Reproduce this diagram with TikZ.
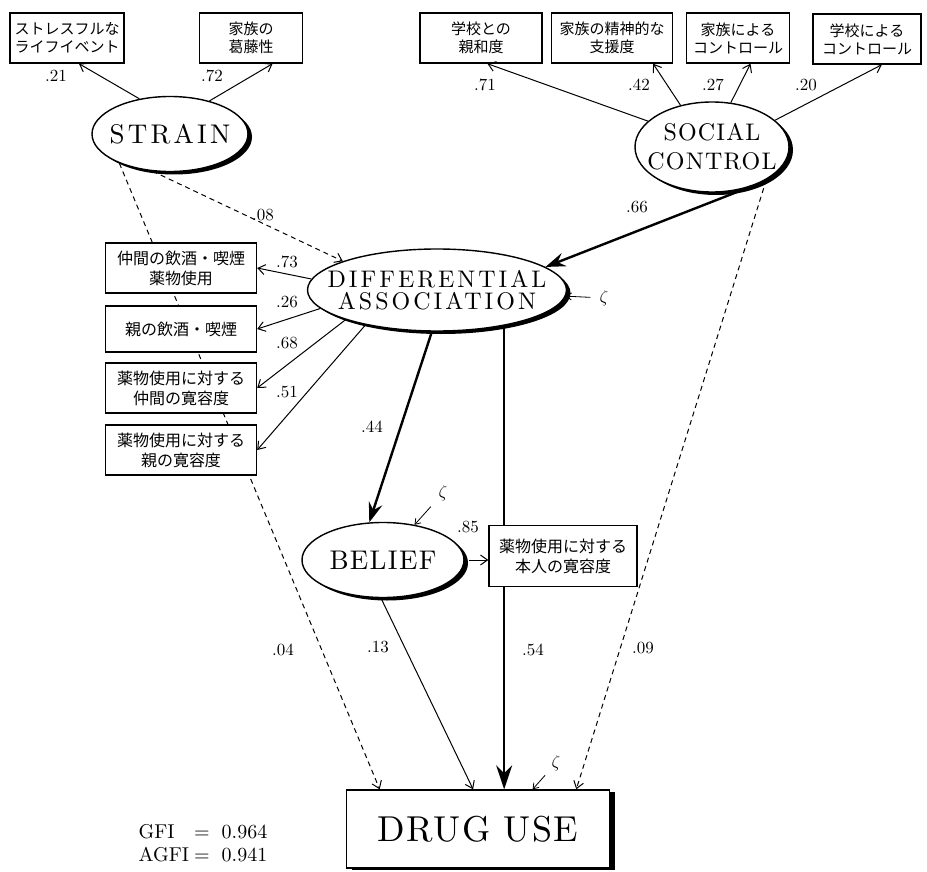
\documentclass[tikz,border=0pt]{standalone}
\usepackage{fontspec}
\setmainfont{lmroman10-regular.otf}
\newfontfamily\jpfont{Noto Sans CJK JP}
\usetikzlibrary{shapes.geometric,shadows,arrows.meta}

\begin{document}
\begin{tikzpicture}[x=1pt, y=-1pt,
  obs/.style={rectangle, draw, line width=1.4pt, fill=white, inner sep=0pt, align=center, font=\jpfont\fontsize{15}{18}\selectfont},
  obsl/.style={obs, minimum width=151pt, font=\jpfont\fontsize{16}{20}\selectfont},
  latent/.style={ellipse, draw, line width=1.4pt, fill=white, inner sep=0pt, drop shadow={shadow xshift=4pt, shadow yshift=-3pt, fill=black, opacity=1}},
  lat/.style={align=center, font=\fontsize{24}{22}\selectfont\addfontfeatures{LetterSpace=12.5}},
  coef/.style={inner sep=1pt, font=\fontsize{17}{17}\selectfont},
  zeta/.style={inner sep=1pt, font=\fontsize{17}{17}\selectfont},
  arr/.style={-{Straight Barb[length=7pt,width=10pt]}, line width=1pt},
  darr/.style={arr, dash pattern=on 5pt off 4pt},
  bigarr/.style={-{Stealth[length=20pt,width=14pt,inset=7pt]}, line width=2.4pt},
  zarr/.style={-{Straight Barb[length=5pt,width=7pt]}, line width=0.8pt}]
  \useasboundingbox (0,0) rectangle (927,872);

  \node[latent, minimum width=156pt, minimum height=75pt, label={[lat, font=\fontsize{27}{27}\selectfont\addfontfeatures{LetterSpace=12}]center:STRAIN}] (strain) at (170,134) {};
  \node[latent, minimum width=154pt, minimum height=90pt, label={[lat, font=\fontsize{24}{29}\selectfont\addfontfeatures{LetterSpace=5}]center:SOCIAL\\CONTROL}] (sc) at (712,147) {};
  \node[latent, minimum width=259pt, minimum height=82pt, label={[lat]center:DIFFERENTIAL\\ASSOCIATION}] (da) at (437,290) {};
  \node[obs, minimum width=263pt, minimum height=78pt, font=\fontsize{36}{36}\selectfont\addfontfeatures{LetterSpace=4}, drop shadow={shadow xshift=5pt, shadow yshift=-2pt, fill=black, opacity=1}] (drug) at (478,829) {DRUG USE};

  \draw[darr] (strain.210) -- (drug.158);
  \draw[-{Stealth[length=24pt,width=16pt,inset=8pt]}, line width=1.6pt] (da.-28) -- (da.-28 |- drug.north);

  \node[obs, minimum width=114pt, minimum height=50pt] (stress) at (67,38) {ストレスフルな\\ライフイベント};
  \node[obs, minimum width=103pt, minimum height=50pt] (conflict) at (251,38) {家族の\\葛藤性};
  \node[obs, minimum width=122pt, minimum height=50pt] (bond) at (481,38) {学校との\\親和度};
  \node[obs, minimum width=121pt, minimum height=50pt] (support) at (612,38) {家族の精神的な\\支援度};
  \node[obs, minimum width=103pt, minimum height=50pt] (famctl) at (738,38) {家族による\\コントロール};
  \node[obs, minimum width=108pt, minimum height=50pt] (schctl) at (867,39) {学校による\\コントロール};
  \node[obsl, minimum height=50pt] (peeruse) at (181,268) {仲間の飲酒・喫煙\\薬物使用};
  \node[obsl, minimum height=46pt] (parentuse) at (181,329) {親の飲酒・喫煙};
  \node[obsl, minimum height=50pt] (peertol) at (181,388) {薬物使用に対する\\仲間の寛容度};
  \node[obsl, minimum height=50pt] (parenttol) at (181,450) {薬物使用に対する\\親の寛容度};
  \node[obs, minimum width=148pt, minimum height=61pt, font=\jpfont\fontsize{16}{20}\selectfont] (selftol) at (563,556) {薬物使用に対する\\本人の寛容度};
  \node[latent, minimum width=162pt, minimum height=75pt, label={[lat, font=\fontsize{27}{27}\selectfont\addfontfeatures{LetterSpace=5}]center:BELIEF}] (belief) at (383,560) {};

  \draw[arr] (strain.131) -- (stress.-65);
  \draw[arr] (strain.40) -- (conflict.-50);
  \draw[arr] (sc.158) -- (bond.-76);
  \draw[arr] (sc.127) -- (support.-32);
  \draw[arr] (sc.67) -- (famctl.-64);
  \draw[arr] (sc.23) -- (schctl.-60);
  \draw[darr] (strain.-115) -- (da.163);
  \draw[bigarr] (sc.-45) -- (da.12);
  \draw[arr] (da.175) -- (peeruse.east);
  \draw[arr] (da.189) -- (parentuse.east);
  \draw[arr] (da.198) -- (peertol.east);
  \draw[arr] (da.206) -- (parenttol.east);
  \draw[bigarr] (da.-97) -- (belief.110);
  \draw[arr, shorten <=4pt] (belief.east) -- (selftol.west |- belief.east);
  \draw[arr] (belief.-93) -- (drug.97);
  \draw[darr] (sc.-31) -- (drug.22);

  \node[zeta] (zda) at (604,298) {$\zeta$};
  \node[zeta] (zbelief) at (443,493) {$\zeta$};
  \node[zeta] (zdrug) at (556,763) {$\zeta$};
  \draw[zarr, shorten <=8pt] (zda) -- (da);
  \draw[zarr, shorten <=10pt] (zbelief) -- (belief);
  \draw[zarr, shorten <=8pt] (zdrug) -- (drug.36);

  \node[coef] (c21) at (56,76) {.21};
  \node[coef] (c72) at (212,76) {.72};
  \node[coef] (c71) at (485,85) {.71};
  \node[coef] (c42) at (639,85) {.42};
  \node[coef] (c27) at (713,85) {.27};
  \node[coef] (c20) at (806,85) {.20};
  \node[coef] (c08) at (263,215) {.08};
  \node[coef] (c66) at (637,207) {.66};
  \node[coef] (c73) at (287,262) {.73};
  \node[coef] (c26) at (287,302) {.26};
  \node[coef] (c68) at (287,343) {.68};
  \node[coef] (c51) at (287,392) {.51};
  \node[coef] (c44) at (372,427) {.44};
  \node[coef] (c85) at (468,527) {.85};
  \node[coef] (c04) at (283,650) {.04};
  \node[coef] (c13) at (378,647) {.13};
  \node[coef] (c54) at (533,650) {.54};
  \node[coef] (c09) at (643,648) {.09};

  \node[font=\fontsize{20}{23}\selectfont] (fit) at (203,845) {\begin{tabular}{@{}l@{\hspace{5pt}}l@{\hspace{12pt}}l@{}}GFI & = & 0.964\\AGFI & = & 0.941\end{tabular}};
\end{tikzpicture}
\end{document}
